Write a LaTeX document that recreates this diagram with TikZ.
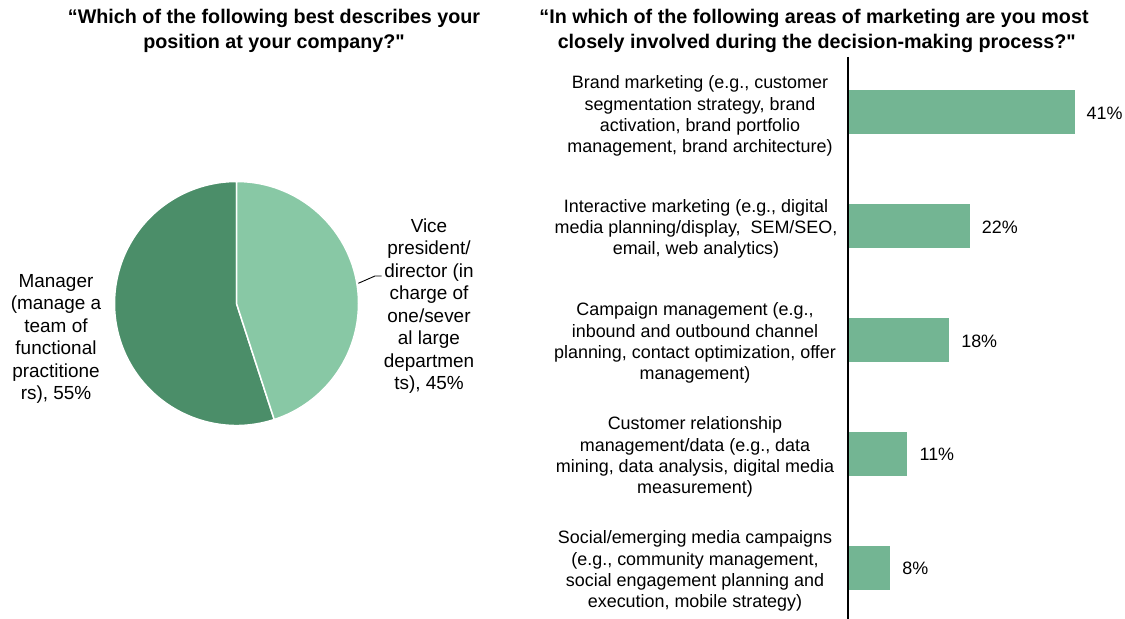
\documentclass[tikz,border=0pt]{standalone}
\usepackage{fontspec}
\setmainfont{Liberation Sans}
\newfontfamily\qfont{Liberation Sans}
\newcommand{\sq}{{\qfont\bfseries\char34}}
\definecolor{bargreen}{HTML}{73B593}
\definecolor{pielight}{HTML}{88C8A5}
\definecolor{piedark}{HTML}{4B8E69}
\begin{document}
\begin{tikzpicture}[x=1bp,y=-1bp,
  lbl/.style={font=\fontsize{18}{21.3}\selectfont, align=center, inner sep=0pt},
  pielbl/.style={font=\fontsize{19}{22.6}\selectfont, align=center, inner sep=0pt},
  ttl/.style={font=\bfseries\fontsize{19.8}{25}\selectfont, align=center, inner sep=0pt},
  bar/.style={fill=bargreen, draw=none, anchor=west, minimum height=44bp, inner sep=0pt},
  pct/.style={font=\fontsize{18}{21}\selectfont, anchor=west, inner sep=0pt},
  slice/.style={draw=white, line width=1.5bp, line join=round}]
\useasboundingbox (0,0) rectangle (1125,619);
\fill[white] (0,0) rectangle (1125,619);

% titles
\node[ttl] (t1) at (274,30.5) {“Which of the following best describes your\\position at your company?\sq};
\node[ttl] (t2) at (814,30.5) {“In which of the following areas of marketing are you most\\\ closely involved during the decision-making process?\sq};

% pie
\coordinate (pc) at (236.5,303.5);
\fill[piedark, slice] (pc) -- ++(72:122) arc[start angle=72, end angle=270, radius=122] -- cycle;
\fill[pielight, slice] (pc) -- ++(-90:122) arc[start angle=-90, end angle=72, radius=122] -- cycle;
\node[pielbl] (lm) at (56,339) {Manager\\(manage a\\team of\\functional\\practitione\\rs), 55\%};
\node[pielbl] (lv) at (429,306) {Vice\\president/\\director (in\\charge of\\one/sever\\al large\\departmen\\ts), 45\%};
\coordinate (ls) at (358.3,283.3);
\coordinate (lk) at (375,276);
\coordinate (le) at (381.7,276);
\draw[black, line width=0.9bp] (ls) -- (lk) -- (le);

% bars
\node[bar, minimum width=226.7bp] (b1) at (848.3,112) {};
\node[bar, minimum width=121bp] (b2) at (848.3,226) {};
\node[bar, minimum width=100.4bp] (b3) at (848.3,340) {};
\node[bar, minimum width=58.7bp] (b4) at (848.3,453.7) {};
\node[bar, minimum width=41.4bp] (b5) at (848.3,567.8) {};
\node[pct] (p1) at ([xshift=11bp,yshift=-1bp]b1.east) {41\%};
\node[pct] (p2) at ([xshift=12bp,yshift=-1bp]b2.east) {22\%};
\node[pct] (p3) at ([xshift=12bp,yshift=-1bp]b3.east) {18\%};
\node[pct] (p4) at ([xshift=12bp,yshift=-1bp]b4.east) {11\%};
\node[pct] (p5) at ([xshift=12bp,yshift=-1bp]b5.east) {8\%};

% axis
\coordinate (ax1) at (848.3,57);
\coordinate (ax2) at (848.3,619);
\draw[black, line width=2bp] (ax1) -- (ax2);

% category labels
\node[lbl] (c1) at (700,116) {Brand marketing (e.g., customer\\segmentation strategy, brand\\activation, brand portfolio\\management, brand architecture)};
\node[lbl] (c2) at (696,229) {Interactive marketing (e.g., digital\\media planning/display,\ \ SEM/SEO,\\email, web analytics)};
\node[lbl] (c3) at (695,343) {Campaign management (e.g.,\\inbound and outbound channel\\planning, contact optimization, offer\\management)};
\node[lbl] (c4) at (695,457) {Customer relationship\\management/data (e.g., data\\mining, data analysis, digital media\\measurement)};
\node[lbl] (c5) at (695,571) {Social/emerging media campaigns\\(e.g., community management,\\social engagement planning and\\execution, mobile strategy)};
\end{tikzpicture}
\end{document}
